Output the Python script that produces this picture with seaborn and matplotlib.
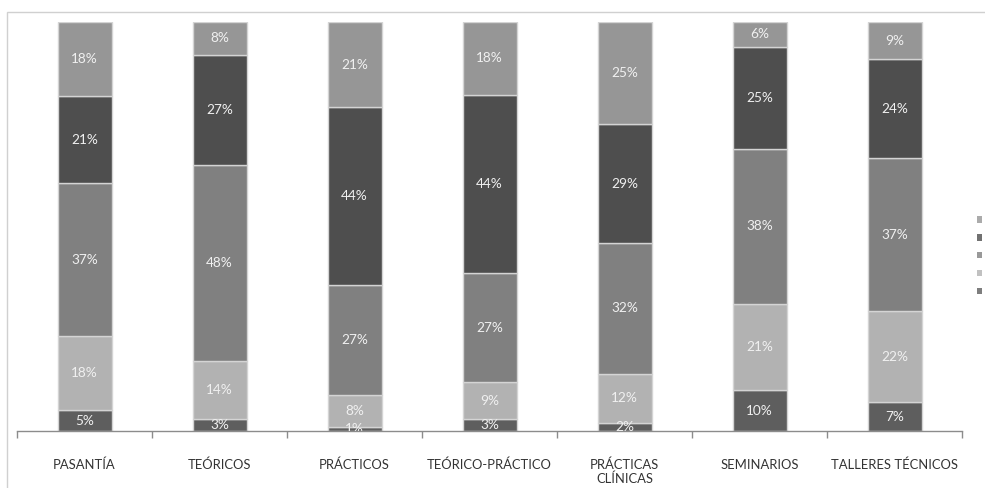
import matplotlib
matplotlib.use("Agg")
import matplotlib.pyplot as plt
from matplotlib.patches import Rectangle, Patch
import seaborn as sns
import numpy as np

# Activity types along the x axis
categories = ["PASANTÍA", "TEÓRICOS", "PRÁCTICOS", "TEÓRICO-PRÁCTICO",
              "PRÁCTICAS\nCLÍNICAS", "SEMINARIOS", "TALLERES TÉCNICOS"]

# Percentage of responses per level, stacked bottom to top
level_1 = [5, 3, 1, 3, 2, 10, 7]
level_2 = [18, 14, 8, 9, 12, 21, 22]
level_3 = [37, 48, 27, 27, 32, 38, 37]
level_4 = [21, 27, 44, 44, 29, 25, 24]
level_5 = [18, 8, 21, 18, 25, 6, 9]

series = [level_1, level_2, level_3, level_4, level_5]
colors = ["#5e5e5e", "#b2b2b2", "#808080", "#4e4e4e", "#969696"]

sns.set_theme(style="white")
plt.rcParams["font.family"] = ["Lato", "DejaVu Sans"]

fig = plt.figure(figsize=(9.85, 4.88), dpi=100)
ax = fig.add_axes([17 / 985, 57 / 488, 945 / 985, 409 / 488])

# 100% stacked columns: each bar is scaled to its own total
totals = np.sum(np.array(series), axis=0)
bottom = np.zeros(len(categories))
for values, color in zip(series, colors):
    share = np.array(values) / totals * 100
    sns.barplot(x=categories, y=share, bottom=bottom, color=color,
                width=0.4, edgecolor="#d4d4d4", linewidth=1.0,
                saturation=1, ax=ax)
    container = ax.containers[-1]
    ax.bar_label(container, labels=[f"{v}%" for v in values],
                 label_type="center", color="#f0f0f0", fontsize=9.8,
                 clip_on=True)
    bottom = bottom + share

ax.set_xlim(-0.5, len(categories) - 0.5)
ax.set_ylim(0, 100)
ax.set(xlabel="", ylabel="")
ax.set_yticks([])

for side in ["top", "right", "left"]:
    ax.spines[side].set_visible(False)
ax.spines["bottom"].set_color("#8c8c8c")
ax.spines["bottom"].set_linewidth(1.0)

ax.set_xticks(range(len(categories)))
ax.set_xticklabels(categories, fontsize=9.4, color="#333333",
                   linespacing=1.15, va="top")
ax.set_xticks(np.arange(-0.5, len(categories), 1.0), minor=True)
ax.tick_params(axis="x", which="major", length=0, pad=20)
ax.tick_params(axis="x", which="minor", length=5, width=1.0,
               color="#8c8c8c", direction="out", bottom=True)

# Chart frame
fig.patches.append(Rectangle((7 / 985, -0.05), 1.2, (488 - 12) / 488 + 0.05,
                             transform=fig.transFigure, fill=False,
                             edgecolor="#d0d0d0", linewidth=1.0))

# Legend swatches, top series first
handles = [Patch(facecolor=c, edgecolor="none", alpha=0.8)
           for c in colors[::-1]]
fig.legend(handles, [""] * len(handles), loc="upper left",
           bbox_to_anchor=(977 / 985, 1 - 214 / 488), frameon=False,
           handlelength=0.4, handleheight=0.4, handletextpad=0.0,
           labelspacing=0.45, borderpad=0.0, borderaxespad=0.0,
           fontsize=9.5)

fig.savefig("out.png", dpi=100)
